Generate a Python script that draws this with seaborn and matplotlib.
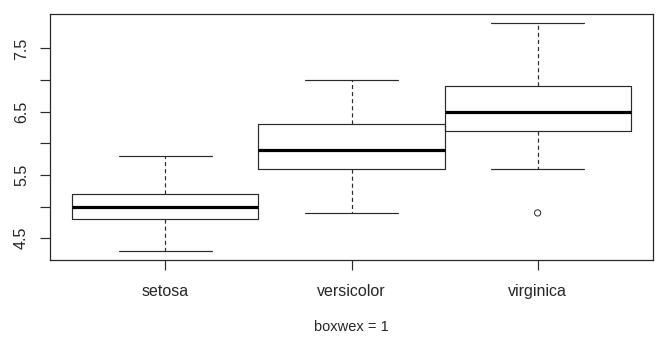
import numpy as np
import pandas as pd
import matplotlib
matplotlib.use("Agg")
import matplotlib.pyplot as plt
import seaborn as sns

# Five-number summaries (min whisker, Q1, median, Q3, max whisker)
species = ["setosa", "versicolor", "virginica"]
setosa_stats = [4.3, 4.8, 5.0, 5.2, 5.8]
versicolor_stats = [4.9, 5.6, 5.9, 6.3, 7.0]
virginica_stats = [5.6, 6.2, 6.5, 6.9, 7.9]
outlier_species = ["virginica"]
outlier_values = [4.9]
y_ticks = [4.5, 5.0, 5.5, 6.0, 6.5, 7.0, 7.5]
y_tick_labels = ["4.5", "", "5.5", "", "6.5", "", "7.5"]
x_title = "boxwex = 1"

sns.set_style("ticks")
plt.rcParams["font.family"] = ["Liberation Sans", "DejaVu Sans"]

df = pd.DataFrame({
    "species": np.repeat(species, 5),
    "value": setosa_stats + versicolor_stats + virginica_stats,
})
out_df = pd.DataFrame({"species": outlier_species, "value": outlier_values})

fig = plt.figure(figsize=(6.59, 3.38), dpi=100)
ax = fig.add_axes([50 / 659, 1 - 260 / 338, 603 / 659, 246 / 338])

line_c = "#2a2a2a"
sns.boxplot(data=df, x="species", y="value", order=species, ax=ax,
            width=1.0, whis=(0, 100), fill=False, color=line_c,
            linecolor=line_c, linewidth=0.85, showfliers=False,
            medianprops=dict(linewidth=2.3, color="black"),
            whiskerprops=dict(linestyle=(0, (3.5, 2.5)), linewidth=0.85, color=line_c),
            capprops=dict(linewidth=0.85, color=line_c),
            boxprops=dict(linewidth=0.85, color=line_c))
sns.stripplot(data=out_df, x="species", y="value", order=species, ax=ax,
              jitter=False, marker="o", size=4.5, color="none",
              edgecolor=line_c, linewidth=0.7)

ax.set_xlim(-0.62, 2.62)
ax.set_ylim(4.156, 8.044)
ax.set_yticks(y_ticks)
ax.set_yticklabels(y_tick_labels, rotation=90, va="center")
ax.set_ylabel("")
ax.set_xlabel(x_title, fontsize=10.5, labelpad=15)
ax.tick_params(axis="both", length=7.2, width=0.85, color=line_c, labelsize=11.5)
ax.tick_params(axis="x", pad=10)
ax.tick_params(axis="y", pad=8)
for s in ax.spines.values():
    s.set_visible(True)
    s.set_linewidth(0.9)
    s.set_color(line_c)

fig.savefig("out.png", dpi=100)
